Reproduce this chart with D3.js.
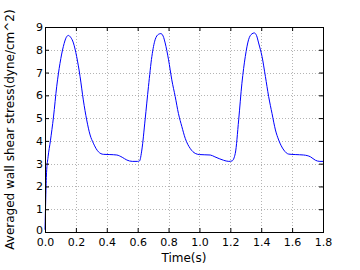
<!DOCTYPE html>
<html>
<head>
<meta charset="utf-8">
<script src="https://cdn.jsdelivr.net/npm/d3@7"></script>
<style>
  body { margin: 0; background: #fff; }
  text { font-family: "DejaVu Sans", sans-serif; fill: #000; }
  .grade line { stroke: #b4b4b4; stroke-width: 1; stroke-dasharray: 1,2; shape-rendering: crispEdges; }
</style>
</head>
<body>
<div id="grafico"></div>
<script>
// Dados: tempo (s) e tensão de cisalhamento média
const tempo = [
  0, 0.005, 0.01, 0.02, 0.035, 0.055, 0.076, 0.097, 0.119, 0.138, 0.151, 0.166, 0.184, 0.205, 0.227, 0.248, 0.27, 0.292, 0.313, 0.346, 0.378, 0.42, 0.465, 0.5, 0.53, 0.565, 0.6, 0.612,
  0.627, 0.648, 0.67, 0.692, 0.713, 0.735, 0.75, 0.765, 0.778, 0.8, 0.821, 0.843, 0.864, 0.886, 0.908, 0.94, 0.973, 1.0, 1.07, 1.1, 1.156, 1.19, 1.211,
  1.232, 1.254, 1.275, 1.297, 1.318, 1.34, 1.355, 1.37, 1.383, 1.405, 1.427, 1.448, 1.47, 1.492, 1.513, 1.546, 1.578, 1.62, 1.675, 1.719, 1.751, 1.78, 1.8
];
const tensao = [
  0.1, 1.5, 2.6, 3.3, 4.0, 5.05, 6.4, 7.4, 8.15, 8.55, 8.63, 8.55, 8.3, 7.7, 6.83, 5.8, 4.92, 4.26, 3.9, 3.52, 3.41, 3.4, 3.38, 3.28, 3.16, 3.1, 3.1, 3.12,
  3.6, 4.92, 6.39, 7.71, 8.44, 8.68, 8.71, 8.6, 8.3, 7.56, 6.68, 5.95, 5.2, 4.63, 4.11, 3.67, 3.45, 3.4, 3.38, 3.3, 3.15, 3.1, 3.12,
  3.45, 4.92, 6.53, 7.71, 8.44, 8.7, 8.74, 8.62, 8.3, 7.71, 6.83, 5.95, 5.2, 4.48, 4.04, 3.6, 3.42, 3.4, 3.38, 3.3, 3.15, 3.1, 3.1
];
const ticksX = [0, 0.2, 0.4, 0.6, 0.8, 1.0, 1.2, 1.4, 1.6, 1.8];
const ticksY = [0, 1, 2, 3, 4, 5, 6, 7, 8, 9];

function criarGraficoLinha() {
    const larguraTotal = 360;
    const alturaTotal = 270;
    const margem = { top: 27, right: 37, bottom: 38, left: 45 };
    const largura = larguraTotal - margem.left - margem.right;
    const altura = alturaTotal - margem.top - margem.bottom;

    const svg = d3.select("#grafico")
        .append("svg")
        .attr("width", larguraTotal)
        .attr("height", alturaTotal)
        .append("g")
        .attr("transform", `translate(${margem.left},${margem.top})`);

    // Escalas
    const x = d3.scaleLinear().domain([0, 1.8]).range([0, largura]);
    const y = d3.scaleLinear().domain([0, 9]).range([altura, 0]);

    // Grade pontilhada
    const grade = svg.append("g").attr("class", "grade");
    grade.selectAll(".gx")
        .data(ticksX.slice(1, -1))
        .enter()
        .append("line")
        .attr("x1", d => Math.round(x(d)) + 0.5)
        .attr("x2", d => Math.round(x(d)) + 0.5)
        .attr("y1", 0)
        .attr("y2", altura);
    grade.selectAll(".gy")
        .data(ticksY.slice(1, -1))
        .enter()
        .append("line")
        .attr("x1", 0)
        .attr("x2", largura)
        .attr("y1", d => Math.round(y(d)) + 0.5)
        .attr("y2", d => Math.round(y(d)) + 0.5);

    // Linha dos dados
    const dados = tempo.map((t, i) => ({ t: t, v: tensao[i] }));
    const linha = d3.line()
        .x(d => x(d.t))
        .y(d => y(d.v))
        .curve(d3.curveMonotoneX);
    svg.append("path")
        .datum(dados)
        .attr("fill", "none")
        .attr("stroke", "#0000ff")
        .attr("stroke-width", 1)
        .attr("d", linha);

    // Eixos (ticks para dentro, como no matplotlib)
    const eixoX = svg.append("g")
        .attr("transform", `translate(0,${altura})`)
        .call(d3.axisBottom(x).tickValues(ticksX).tickFormat(d3.format(".1f")).tickSize(-4).tickSizeOuter(0).tickPadding(6));
    const eixoY = svg.append("g")
        .call(d3.axisLeft(y).tickValues(ticksY).tickFormat(d3.format("d")).tickSize(-4).tickSizeOuter(0).tickPadding(2));
    const eixoTopo = svg.append("g")
        .call(d3.axisTop(x).tickValues(ticksX).tickFormat("").tickSize(-4).tickSizeOuter(0));
    const eixoDireita = svg.append("g")
        .attr("transform", `translate(${largura},0)`)
        .call(d3.axisRight(y).tickValues(ticksY).tickFormat("").tickSize(-4).tickSizeOuter(0));

    [eixoX, eixoY, eixoTopo, eixoDireita].forEach(e => {
        e.select(".domain").remove();
        e.selectAll("line").attr("stroke", "#000");
        e.selectAll("text").style("font-size", "11px").style("font-family", "DejaVu Sans");
    });
    // o "0" do eixo Y fica um pouco acima, como na referência
    eixoY.selectAll("text").attr("dy", d => d === 0 ? "0.1em" : "0.32em");

    // Moldura
    svg.append("rect")
        .attr("x", 0.5)
        .attr("y", 0.5)
        .attr("width", largura)
        .attr("height", altura)
        .attr("fill", "none")
        .attr("stroke", "#000")
        .attr("stroke-width", 1);

    // Rótulos dos eixos
    svg.append("text")
        .attr("x", largura / 2)
        .attr("y", altura + 30)
        .attr("text-anchor", "middle")
        .style("font-size", "12px")
        .text("Time(s)");

    svg.append("text")
        .attr("transform", `translate(${-31},${altura / 2}) rotate(-90)`)
        .attr("text-anchor", "middle")
        .style("font-size", "12px")
        .text("Averaged wall shear stress(dyne/cm^2)");
}

criarGraficoLinha();
</script>
</body>
</html>
